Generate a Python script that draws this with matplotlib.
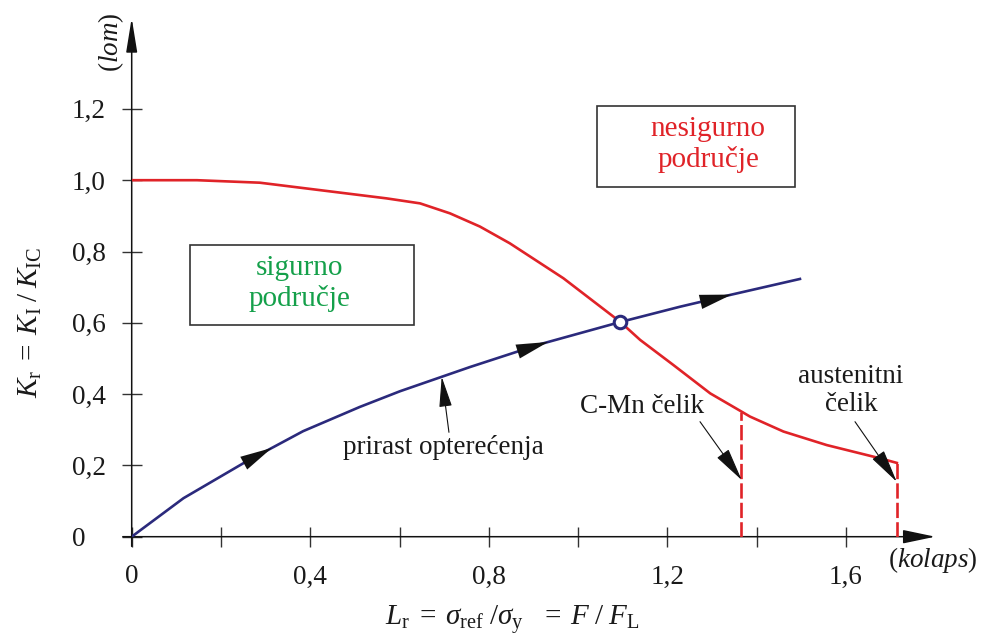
import numpy as np
import matplotlib
matplotlib.use("Agg")
import matplotlib.pyplot as plt
from matplotlib.patches import Rectangle

plt.rcParams['font.family'] = ['Liberation Serif', 'DejaVu Serif']
plt.rcParams['mathtext.fontset'] = 'custom'
plt.rcParams['mathtext.rm'] = 'Liberation Serif'
plt.rcParams['mathtext.it'] = 'Liberation Serif:italic'
plt.rcParams['mathtext.bf'] = 'Liberation Serif:bold'
plt.rcParams['lines.scale_dashes'] = False

# ---- data ----
fad_x = [0.0, 0.146, 0.287, 0.571, 0.646, 0.713, 0.780, 0.847, 0.967, 1.094,
         1.139, 1.213, 1.296, 1.366, 1.385, 1.460, 1.557, 1.676, 1.714]
fad_y = [1.000, 1.000, 0.993, 0.949, 0.935, 0.907, 0.870, 0.823, 0.725, 0.603,
         0.552, 0.482, 0.402, 0.351, 0.337, 0.295, 0.257, 0.220, 0.207]
load_x = [0.0, 0.116, 0.250, 0.384, 0.511, 0.601, 0.691, 0.758, 0.915, 1.094,
          1.228, 1.340, 1.497]
load_y = [0.0, 0.108, 0.206, 0.296, 0.364, 0.408, 0.447, 0.476, 0.540, 0.602,
          0.645, 0.678, 0.723]
cutoff_cmn = 1.366
cutoff_aus = 1.714
intersect = (1.094, 0.602)
arrow_pos = [(0.243, 0.314), (0.862, 0.933), (1.270, 1.344)]  # (base x, tip x)

xticks = [0, 0.2, 0.4, 0.6, 0.8, 1.0, 1.2, 1.4, 1.6]
xticklabels = ['0', '', '0,4', '', '0,8', '', '1,2', '', '1,6']
yticks = [0, 0.2, 0.4, 0.6, 0.8, 1.0, 1.2]
yticklabels = ['0', '0,2', '0,4', '0,6', '0,8', '1,0', '1,2']

RED = '#e02328'
BLUE = '#2b2a7c'
GREEN = '#14a04a'
TXT = '#1a1a1a'

W, H = 981, 639
fig = plt.figure(figsize=(W / 100, H / 100), dpi=100)
x0px, y0px = 131.7, 536.7
sx, sy = 446.4, 356.5
xmax, ymax = 1.8, 1.46
ax = fig.add_axes([x0px / W, (H - y0px) / H, xmax * sx / W, ymax * sy / H])
ax.set_xlim(0, xmax)
ax.set_ylim(0, ymax)
for s in ax.spines.values():
    s.set_visible(False)
ax.patch.set_alpha(0)

# ticks
ax.set_xticks(xticks)
ax.set_xticklabels(xticklabels)
ax.set_yticks(yticks)
ax.set_yticklabels(yticklabels)
ax.tick_params(axis='both', direction='inout', length=14, width=1.0,
               color='#333333', labelsize=19.5, labelcolor=TXT)
ax.tick_params(axis='x', pad=13)
ax.tick_params(axis='y', pad=36)
for lab in ax.get_yticklabels():
    lab.set_horizontalalignment('left')

# axes with arrows
ax.annotate('', xy=(1.80, 0), xytext=(-0.02, 0), xycoords='data',
            arrowprops=dict(arrowstyle='-|>,head_length=20,head_width=4.2',
                            mutation_scale=1, color='#111111', lw=1.1,
                            shrinkA=0, shrinkB=0), annotation_clip=False)
ax.annotate('', xy=(0, 1.455), xytext=(0, -0.027), xycoords='data',
            arrowprops=dict(arrowstyle='-|>,head_length=21,head_width=3.4',
                            mutation_scale=1, color='#111111', lw=1.1,
                            shrinkA=0, shrinkB=0), annotation_clip=False)

# FAD curve
ax.plot(fad_x, fad_y, color=RED, lw=1.9, solid_joinstyle='round', zorder=3)
ycm = np.interp(cutoff_cmn, fad_x, fad_y)
yau = np.interp(cutoff_aus, fad_x, fad_y)
ax.plot([cutoff_cmn, cutoff_cmn], [0, ycm], color=RED, lw=1.9,
        dashes=(11, 3), zorder=3)
ax.plot([cutoff_aus, cutoff_aus], [0, yau], color=RED, lw=1.9,
        dashes=(11, 3), zorder=3)

# load path
ax.plot(load_x, load_y, color=BLUE, lw=1.9, solid_joinstyle='round', zorder=4)
for bx, tx in arrow_pos:
    by = np.interp(bx, load_x, load_y)
    ty = np.interp(tx, load_x, load_y)
    ax.annotate('', xy=(tx, ty), xytext=(bx, by),
                arrowprops=dict(arrowstyle='-|>,head_length=23,head_width=5.2',
                                mutation_scale=1, color='#111111', lw=0.01,
                                shrinkA=0, shrinkB=0), zorder=5)
ax.plot([intersect[0]], [intersect[1]], marker='o', ms=9, mfc='white',
        mec=BLUE, mew=2.2, zorder=6)

# boxes
ax.add_patch(Rectangle((1.0417, 0.982), 1.486 - 1.0417, 1.209 - 0.982,
                       fill=False, ec='#333333', lw=1.2, zorder=2))
ax.add_patch(Rectangle((0.1306, 0.5939), 0.6324 - 0.1306, 0.8182 - 0.5939,
                       fill=False, ec='#333333', lw=1.2, zorder=2))
ax.text(1.291, 1.100, 'nesigurno\npodručje', color=RED, fontsize=21,
        ha='center', va='center', linespacing=1.2)
ax.text(0.377, 0.710, 'sigurno\npodručje', color=GREEN, fontsize=21,
        ha='center', va='center', linespacing=1.2)

# annotations
ax.annotate('prirast opterećenja', xy=(0.6945, np.interp(0.6945, load_x, load_y)),
            xytext=(0.698, 0.25), ha='center', va='center', fontsize=19.5,
            color=TXT,
            arrowprops=dict(arrowstyle='-|>,head_length=19,head_width=4.0',
                            mutation_scale=1, color='#111111', lw=0.8,
                            shrinkA=0, shrinkB=0, relpos=(0.53, 1.0)))
ax.text(1.144, 0.365, 'C-Mn čelik', ha='center', va='center', fontsize=19.5,
        color=TXT)
ax.annotate('', xy=(1.3665, 0.159), xytext=(1.2731, 0.3226),
            arrowprops=dict(arrowstyle='-|>,head_length=21,head_width=4.5',
                            mutation_scale=1, color='#111111', lw=0.8,
                            shrinkA=0, shrinkB=0))
ax.text(1.611, 0.410, 'austenitni\nčelik', ha='center', va='center',
        fontsize=19.5, color=TXT, linespacing=1.2)
ax.annotate('', xy=(1.7137, 0.1543), xytext=(1.6203, 0.3226),
            arrowprops=dict(arrowstyle='-|>,head_length=21,head_width=4.5',
                            mutation_scale=1, color='#111111', lw=0.8,
                            shrinkA=0, shrinkB=0))

# axis end labels
ax.text(-0.0465, 1.388, r'($\mathit{lom}$)', rotation=90, ha='center',
        va='center', fontsize=19.5, color=TXT, clip_on=False)
ax.text(1.795, -0.065, r'($\mathit{kolaps}$)', ha='center', va='center',
        fontsize=19.5, color=TXT, clip_on=False)

# axis titles
fig.text(30 / W, 1 - 322 / H,
         r'$K_\mathrm{r}\;=\;K_\mathrm{I}\;/\;K_\mathrm{IC}$',
         rotation=90, ha='center', va='center', fontsize=21, color=TXT)
fig.text(512 / W, 1 - 620 / H,
         r'$L_\mathrm{r}\;=\;\sigma_\mathrm{ref}\;/\sigma_\mathrm{y}\;\;\;=\;F\;/\;F_\mathrm{L}$',
         ha='center', va='center', fontsize=21, color=TXT)

fig.savefig('out.png', dpi=100)
